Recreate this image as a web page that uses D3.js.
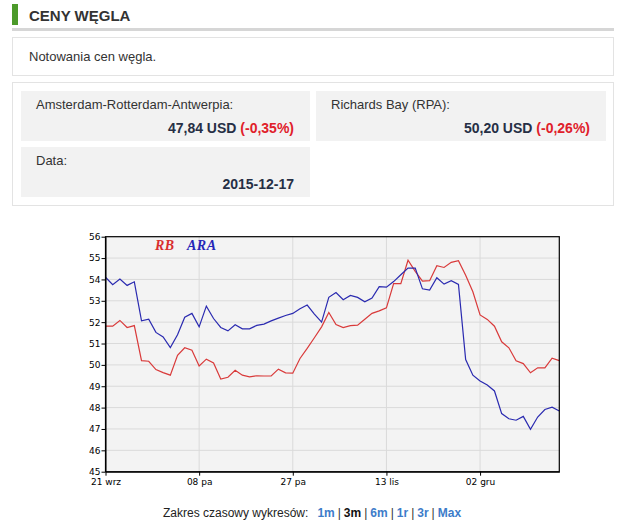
<!DOCTYPE html>
<html>
<head>
<meta charset="utf-8">
<script src="https://cdn.jsdelivr.net/npm/d3@7"></script>
<style>
  html, body { margin: 0; padding: 0; background: #fff; }
  svg { display: block; font-family: "Liberation Sans", Arial, sans-serif; }
</style>
</head>
<body>
<svg id="c" width="623" height="526"></svg>
<script>
// ---- data ----
const tickIndex = [0, 13, 26, 39, 52];
const tickLabels = ["21 wrz", "08 pa", "27 pa", "13 lis", "02 gru"];
const yTicks = [45, 46, 47, 48, 49, 50, 51, 52, 53, 54, 55, 56];
const seriesNames = ["RB", "ARA"];
const ara = [54.10, 53.75, 54.02, 53.72, 53.89, 52.06, 52.14, 51.52, 51.31, 50.81,
             51.41, 52.23, 52.41, 51.78, 52.75, 52.17, 51.75, 51.59, 51.88, 51.69,
             51.69, 51.85, 51.91, 52.06, 52.19, 52.31, 52.41, 52.63, 52.80, 52.38,
             52.00, 53.16, 53.39, 53.05, 53.25, 53.16, 52.95, 53.13, 53.66, 53.64,
             53.90, 54.22, 54.53, 54.53, 53.56, 53.50, 54.08, 53.78, 53.94, 53.77,
             50.25, 49.52, 49.25, 49.06, 48.78, 47.72, 47.48, 47.41, 47.59, 46.98,
             47.56, 47.91, 48.02, 47.84];
const rb = [51.81, 51.81, 52.08, 51.75, 51.84, 50.20, 50.17, 49.78, 49.64, 49.52,
            50.45, 50.80, 50.69, 49.95, 50.27, 50.09, 49.34, 49.42, 49.75, 49.52,
            49.44, 49.49, 49.48, 49.48, 49.80, 49.63, 49.61, 50.30, 50.77, 51.27,
            51.78, 52.45, 51.89, 51.75, 51.84, 51.86, 52.14, 52.41, 52.53, 52.67,
            53.80, 53.80, 54.90, 54.38, 53.92, 53.94, 54.64, 54.56, 54.80, 54.88,
            54.20, 53.42, 52.34, 52.13, 51.81, 51.08, 50.80, 50.19, 50.06, 49.63,
            49.86, 49.86, 50.31, 50.20];
const infoLabels = ["Amsterdam-Rotterdam-Antwerpia:", "Richards Bay (RPA):", "Data:"];
const infoValues = ["47,84 USD", "50,20 USD", "2015-12-17"];
const infoChanges = ["(-0,35%)", "(-0,26%)", ""];
const rangeLinks = ["1m", "3m", "6m", "1r", "3r", "Max"];
const activeRange = "3m";

const svg = d3.select("#c");

// ---- header ----
svg.append("rect").attr("x", 12).attr("y", 4).attr("width", 6).attr("height", 21).attr("fill", "#4c9a2a");
svg.append("text").attr("x", 29).attr("y", 21).attr("font-size", 15).attr("font-weight", "bold")
  .attr("fill", "#333").text("CENY WĘGLA");
svg.append("rect").attr("x", 12).attr("y", 28).attr("width", 602).attr("height", 3).attr("fill", "#d6d6d6");

// box 1
svg.append("rect").attr("x", 12.5).attr("y", 37.5).attr("width", 601).attr("height", 38)
  .attr("fill", "#fff").attr("stroke", "#e3e3e3");
svg.append("text").attr("x", 29).attr("y", 61).attr("font-size", 13).attr("fill", "#333")
  .text("Notowania cen węgla.");

// box 2
svg.append("rect").attr("x", 12.5).attr("y", 82.5).attr("width", 601).attr("height", 123)
  .attr("fill", "#fff").attr("stroke", "#e3e3e3");
const cells = [
  {x: 21, y: 91, w: 289, h: 50, lx: 36, rx: 294},
  {x: 316, y: 91, w: 290, h: 50, lx: 331, rx: 590},
  {x: 21, y: 147, w: 289, h: 50, lx: 36, rx: 294}
];
cells.forEach((c, i) => {
  svg.append("rect").attr("x", c.x).attr("y", c.y).attr("width", c.w).attr("height", c.h).attr("fill", "#f2f2f2");
  svg.append("text").attr("x", c.lx).attr("y", c.y + 18).attr("font-size", 13).attr("fill", "#333").text(infoLabels[i]);
  const t = svg.append("text").attr("x", c.rx).attr("y", c.y + 42).attr("text-anchor", "end")
    .attr("font-size", 14).attr("font-weight", "bold");
  t.append("tspan").attr("fill", "#262f45").text(infoValues[i]);
  if (infoChanges[i]) t.append("tspan").attr("fill", "#e0202a").text(" " + infoChanges[i]);
});

// ---- chart ----
const L = 105.5, R = 559.3, T = 236.7, B = 471.7;
const x = d3.scaleLinear().domain([0, ara.length - 1]).range([L, R]);
const y = d3.scaleLinear().domain([45, 56]).range([B, T]);

svg.append("rect").attr("x", L).attr("y", T).attr("width", R - L).attr("height", B - T).attr("fill", "#f3f3f3");

// grid
svg.append("g").selectAll("line").data(yTicks.slice(1, -1)).join("line")
  .attr("x1", L).attr("x2", R).attr("y1", d => y(d)).attr("y2", d => y(d))
  .attr("stroke", "#dadada").attr("stroke-width", 1);
svg.append("g").selectAll("line").data(tickIndex.slice(1)).join("line")
  .attr("x1", d => x(d)).attr("x2", d => x(d)).attr("y1", T).attr("y2", B)
  .attr("stroke", "#dadada").attr("stroke-width", 1);

// lines
const line = d3.line().x((d, i) => x(i)).y(d => y(d));
svg.append("path").datum(rb).attr("d", line).attr("fill", "none").attr("stroke", "#d93a3a").attr("stroke-width", 1.2);
svg.append("path").datum(ara).attr("d", line).attr("fill", "none").attr("stroke", "#2a2ab0").attr("stroke-width", 1.2);

// frame
svg.append("rect").attr("x", L).attr("y", T).attr("width", R - L).attr("height", B - T)
  .attr("fill", "none").attr("stroke", "#000").attr("stroke-width", 1.2);

// axes
const yAxis = d3.axisLeft(y).tickValues(yTicks).tickSize(4).tickSizeOuter(0).tickPadding(1).tickFormat(d3.format("d"));
const gy = svg.append("g").attr("transform", `translate(${L},0)`).call(yAxis);
gy.select(".domain").attr("stroke", "#000");
gy.selectAll("text").style("font-size", "9px").style("fill", "#000").style("font-family", "'DejaVu Sans', sans-serif");

const xAxis = d3.axisBottom(x).tickValues(tickIndex).tickSize(4).tickSizeOuter(0).tickPadding(3)
  .tickFormat((d, i) => tickLabels[i]);
const gx = svg.append("g").attr("transform", `translate(0,${B})`).call(xAxis);
gx.select(".domain").attr("stroke", "#000");
gx.selectAll("text").style("font-size", "9px").style("fill", "#000").style("font-family", "'DejaVu Sans', sans-serif");

// legend
const legColors = ["#d92e2e", "#2626b8"];
const legX = [155, 187];
seriesNames.forEach((n, i) => {
  svg.append("text").attr("x", legX[i]).attr("y", 250)
    .style("font-family", "'Liberation Serif', 'DejaVu Serif', 'Times New Roman', serif")
    .style("font-style", "italic").style("font-weight", "bold").style("font-size", "14px")
    .style("letter-spacing", "0.5px")
    .attr("fill", legColors[i]).text(n);
});

// ---- footer ----
const ft = svg.append("text").attr("x", 163).attr("y", 517).attr("font-size", 12).attr("fill", "#222");
ft.append("tspan").text("Zakres czasowy wykresów:");
rangeLinks.forEach((r, i) => {
  if (i > 0) ft.append("tspan").attr("fill", "#333").attr("dx", 3).text("|");
  ft.append("tspan").attr("dx", i === 0 ? 9 : 3).attr("font-weight", "bold")
    .attr("fill", r === activeRange ? "#111" : "#3d7cc9").text(r);
});
</script>
</body>
</html>
